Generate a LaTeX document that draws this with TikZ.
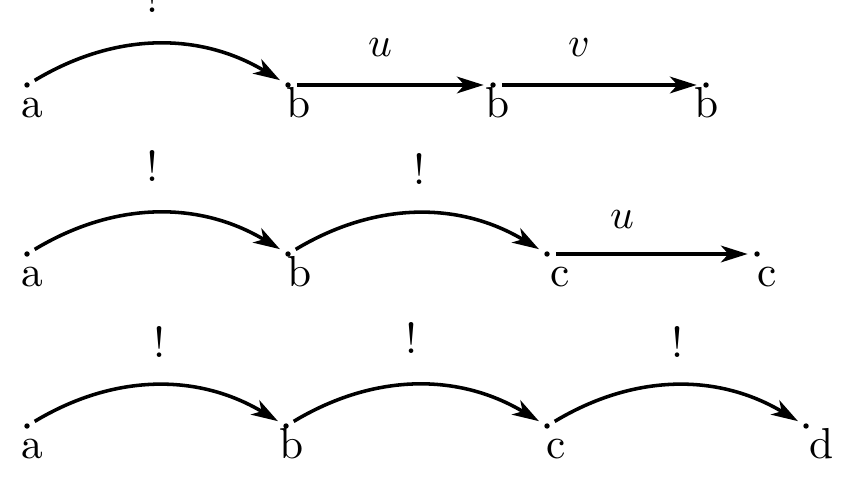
\documentclass[tikz,border=0pt]{standalone}
\usetikzlibrary{arrows.meta}
\begin{document}
\begin{tikzpicture}[x=0.24pt,y=0.24pt,
  pt/.style={circle,fill=black,inner sep=0pt,minimum size=1.3pt},
  lbl/.style={anchor=base,inner sep=0pt,font=\fontsize{10.4}{12}\selectfont},
  arr/.style={line width=0.85pt,-{Stealth[length=6.4pt,width=4pt,inset=1.8pt]},shorten <=1.3pt,shorten >=1.4pt},
  arc/.style={arr,bend left=31}]
\useasboundingbox (0,0) rectangle (849,482);
% row 1
\node[pt] (a1) at (27,397) {};
\node[pt] (b1) at (288,397) {};
\node[pt] (b2) at (493,397) {};
\node[pt] (b3) at (706,397) {};
\node[lbl] (la1) at (32,364) {a};
\node[lbl] (lb1) at (299,364) {b};
\node[lbl] (lb2) at (498,364) {b};
\node[lbl] (lb3) at (707,364) {b};
\node[lbl] (e1) at (153,469) {!};
\node[lbl] (u1) at (380,425) {$u$};
\node[lbl] (v1) at (579,425) {$v$};
\draw[arc] (a1) to (b1);
\draw[arr] (b1) -- (b2);
\draw[arr] (b2) -- (b3);
% row 2
\node[pt] (a2) at (27,228) {};
\node[pt] (b4) at (288,228) {};
\node[pt] (c1) at (547,228) {};
\node[pt] (c2) at (757,228) {};
\node[lbl] (la2) at (32,195) {a};
\node[lbl] (lb4) at (300,195) {b};
\node[lbl] (lc1) at (560,195) {c};
\node[lbl] (lc2) at (767,195) {c};
\node[lbl] (e2) at (153,300) {!};
\node[lbl] (e3) at (420,297) {!};
\node[lbl] (u2) at (622,254) {$u$};
\draw[arc] (a2) to (b4);
\draw[arc] (b4) to (c1);
\draw[arr] (c1) -- (c2);
% row 3
\node[pt] (a3) at (27,56) {};
\node[pt] (b5) at (286,56) {};
\node[pt] (c3) at (547,56) {};
\node[pt] (d1) at (806,56) {};
\node[lbl] (la3) at (32,24) {a};
\node[lbl] (lb5) at (292,24) {b};
\node[lbl] (lc3) at (556,24) {c};
\node[lbl] (ld1) at (822,24) {d};
\node[lbl] (e4) at (160,125) {!};
\node[lbl] (e5) at (412,129) {!};
\node[lbl] (e6) at (678,125) {!};
\draw[arc] (a3) to (b5);
\draw[arc] (b5) to (c3);
\draw[arc] (c3) to (d1);
\end{tikzpicture}
\end{document}
